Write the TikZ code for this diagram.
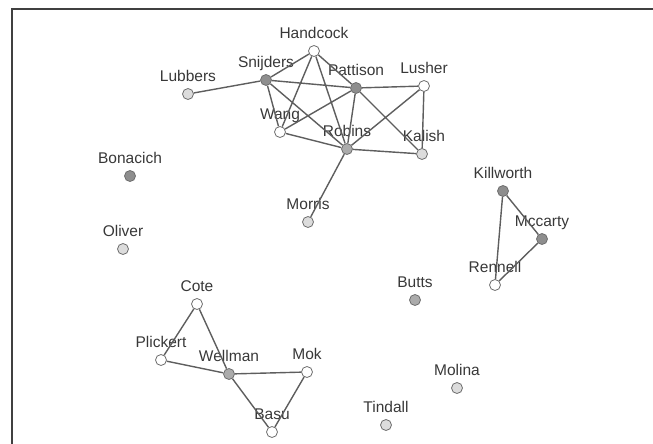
\documentclass[tikz,border=0pt]{standalone}
\usepackage{fontspec}
\setmainfont{Liberation Sans}
\definecolor{framegray}{HTML}{404040}
\definecolor{tiegray}{HTML}{5E5E5E}
\definecolor{rimgray}{HTML}{6E6E6E}
\definecolor{txtgray}{HTML}{383838}
\definecolor{darkfill}{HTML}{8E8E8E}
\definecolor{midfill}{HTML}{ABABAB}
\definecolor{lightfill}{HTML}{DCDCDC}

\begin{document}
\begin{tikzpicture}[x=1pt,y=-1pt,label distance=3.1pt]
        \tikzstyle{actor}=[circle,draw=rimgray,line width=0.8pt,minimum size=11pt,inner sep=0pt,fill=white]
        \tikzstyle{dark}=[actor,fill=darkfill]
        \tikzstyle{mid}=[actor,fill=midfill]
        \tikzstyle{light}=[actor,fill=lightfill]
        \tikzstyle{every label}=[text=txtgray,font=\fontsize{15.5}{18}\selectfont,inner sep=0pt,text height=11pt,text depth=3pt]
        \tikzstyle{tie}=[draw=tiegray,line width=1.4pt]
        \useasboundingbox (0,0) rectangle (653,444);
        \draw[framegray,line width=1.6pt] (12,444) -- (12,9) -- (653,9);
        % upper group
        \node[actor] (handcock) at (314,51) [label=above:Handcock] {};
        \node[dark] (snijders) at (266,80) [label=above:Snijders] {};
        \node[dark] (pattison) at (356,88) [label=above:Pattison] {};
        \node[actor] (lusher) at (424,86) [label=above:Lusher] {};
        \node[light] (lubbers) at (188,94) [label=above:Lubbers] {};
        \node[actor] (wang) at (280,132) [label=above:Wang] {};
        \node[mid] (robins) at (347,149) [label=above:Robins] {};
        \node[light] (kalish) at (422,154) [label={[xshift=2pt]above:Kalish}] {};
        \node[light] (morris) at (308,222) [label=above:Morris] {};
        % isolates
        \node[dark] (bonacich) at (130,176) [label=above:Bonacich] {};
        \node[light] (oliver) at (123,249) [label=above:Oliver] {};
        \node[mid] (butts) at (415,300) [label=above:Butts] {};
        \node[light] (molina) at (457,388) [label=above:Molina] {};
        \node[light] (tindall) at (386,425) [label=above:Tindall] {};
        % right triad
        \node[dark] (killworth) at (503,191) [label=above:Killworth] {};
        \node[dark] (mccarty) at (542,239) [label=above:Mccarty] {};
        \node[actor] (rennell) at (495,285) [label=above:Rennell] {};
        % lower group
        \node[actor] (cote) at (197,304) [label=above:Cote] {};
        \node[actor] (plickert) at (161,360) [label=above:Plickert] {};
        \node[mid] (wellman) at (229,374) [label=above:Wellman] {};
        \node[actor] (mok) at (307,372) [label=above:Mok] {};
        \node[actor] (basu) at (272,432) [label=above:Basu] {};

        \path[tie] (lubbers) -- (snijders)
                (snijders) -- (handcock) (snijders) -- (pattison)
                (snijders) -- (wang) (snijders) -- (robins)
                (handcock) -- (wang) (handcock) -- (robins) (handcock) -- (pattison)
                (pattison) -- (lusher) (pattison) -- (wang)
                (pattison) -- (robins) (pattison) -- (kalish)
                (lusher) -- (robins) (lusher) -- (kalish)
                (wang) -- (robins) (robins) -- (kalish) (robins) -- (morris);
        \path[tie] (killworth) -- (mccarty) (killworth) -- (rennell) (mccarty) -- (rennell);
        \path[tie] (cote) -- (plickert) (cote) -- (wellman) (plickert) -- (wellman)
                (wellman) -- (mok) (wellman) -- (basu) (mok) -- (basu);
\end{tikzpicture}
\end{document}
